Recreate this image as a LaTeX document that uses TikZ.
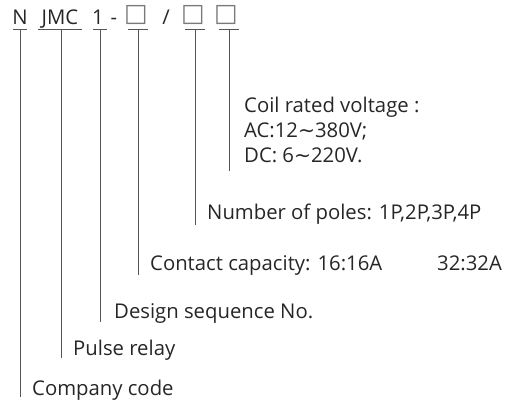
\documentclass[tikz,border=0pt]{standalone}
\usepackage{fontspec}
\setmainfont{Open Sans}
\newfontfamily\symfont{DejaVu Sans}
\definecolor{txt}{HTML}{262626}
\definecolor{ln}{HTML}{555555}
\definecolor{boxc}{HTML}{7a7a7a}
\begin{document}
\begin{tikzpicture}[x=1pt,y=-1pt,
  lbl/.style={anchor=base west,inner sep=0pt,text=txt,font=\fontsize{20.3}{24}\selectfont},
  hdr/.style={anchor=base,inner sep=0pt,text=txt,font=\fontsize{20.3}{24}\selectfont},
  bx/.style={anchor=base,inner sep=0pt,text=boxc,font=\symfont\fontsize{25}{28}\selectfont},
  bar/.style={draw=ln,line width=1pt},
  stem/.style={draw=ln,line width=1pt}]
\useasboundingbox (0,0) rectangle (513,405);
% header
\node[hdr] (hN) at (20,24) {N};
\node[hdr] (hJ) at (60,24) {JMC};
\node[hdr] (h1) at (98,24) {1};
\node[hdr] (hd) at (114,24) {-};
\node[bx] (b1) at (136,21) {□};
\node[hdr] (hs) at (166,24) {/};
\node[bx] (b2) at (193,21) {□};
\node[bx] (b3) at (226,21) {□};
% bars
\coordinate (tN) at (20,29);  \coordinate (eN) at (20,397);
\coordinate (tJ) at (61,29);  \coordinate (eJ) at (61,358);
\coordinate (t1) at (100,29); \coordinate (e1) at (100,322);
\coordinate (tA) at (138,29); \coordinate (eA) at (138,275);
\coordinate (tB) at (195,29); \coordinate (eB) at (195,225);
\coordinate (tC) at (229,29); \coordinate (eC) at (229,171);
\draw[bar] ([xshift=-7pt]tN) -- ([xshift=7pt]tN);
\draw[bar] ([xshift=-23pt]tJ) -- ([xshift=21pt]tJ);
\draw[bar] ([xshift=-7pt]t1) -- ([xshift=7pt]t1);
\draw[bar] ([xshift=-10pt]tA) -- ([xshift=10pt]tA);
\draw[bar] ([xshift=-10pt]tB) -- ([xshift=10pt]tB);
\draw[bar] ([xshift=-10pt]tC) -- ([xshift=10pt]tC);
\draw[stem] (tN) -- (eN);
\draw[stem] (tJ) -- (eJ);
\draw[stem] (t1) -- (e1);
\draw[stem] (tA) -- (eA);
\draw[stem] (tB) -- (eB);
\draw[stem] (tC) -- (eC);
% labels
\node[lbl] (coil) at (244,112) {Coil rated voltage :};
\node[lbl] (ac) at (244,137) {AC:12\symfont\char"223C\rmfamily380V;};
\node[lbl] (dc) at (244,162) {DC: 6\symfont\char"223C\rmfamily220V.};
\node[lbl] (poles) at (207,219) {Number of poles: 1P,2P,3P,4P};
\node[lbl] (cap) at (150,270) {Contact capacity: 16:16A};
\node[lbl] (cap2) at (437,270) {32:32A};
\node[lbl] (des) at (114,318) {Design sequence No.};
\node[lbl] (pul) at (73,355) {Pulse relay};
\node[lbl] (com) at (32,395) {Company code};
\end{tikzpicture}
\end{document}
